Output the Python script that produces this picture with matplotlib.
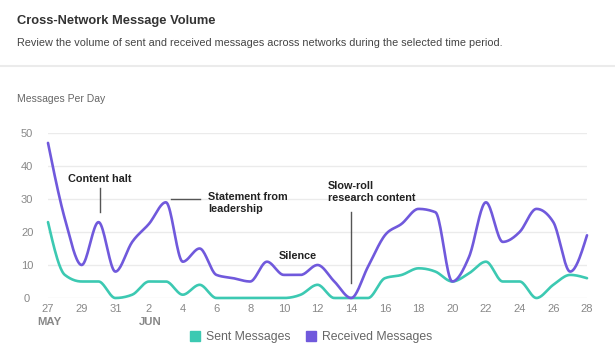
import numpy as np
import matplotlib
matplotlib.use("Agg")
import matplotlib.pyplot as plt
from matplotlib.lines import Line2D

plt.rcParams['font.family'] = ['Liberation Sans', 'DejaVu Sans']

# May 27 .. Jun 28
day_labels = ["27", "28", "29", "30", "31"] + [str(d) for d in range(1, 29)]
sent = [23, 7, 5, 5, 0, 1, 5, 5, 1, 4, 0, 0, 0, 0, 0, 1, 4, 0, 0, 0,
        6, 7, 9, 8, 5, 7.5, 11, 5, 5, 0, 4, 7, 6]
received = [47, 24, 10, 23, 8, 17, 22.5, 29, 11, 15, 7, 6, 5, 11, 7, 7, 10, 5, 0, 9.5,
            19, 22.5, 27, 26, 5, 12.5, 29, 17, 20, 27, 23, 8, 19]
month_marks = {0: "MAY", 6: "JUN"}

SENT_C = "#3cc9b2"
RECV_C = "#7059dc"


def monotone(x, y, n=20):
    # monotone cubic (same idea as d3 curveMonotoneX)
    x = np.asarray(x, float)
    y = np.asarray(y, float)
    h = np.diff(x)
    s = np.diff(y) / h
    t = np.zeros_like(y)
    for i in range(1, len(y) - 1):
        p = (s[i - 1] * h[i] + s[i] * h[i - 1]) / (h[i - 1] + h[i])
        t[i] = (np.sign(s[i - 1]) + np.sign(s[i])) * min(abs(s[i - 1]), abs(s[i]), 0.5 * abs(p))
    t[0] = (3 * s[0] - t[1]) / 2
    t[-1] = (3 * s[-1] - t[-2]) / 2
    xs, ys = [], []
    for i in range(len(h)):
        u = np.linspace(0, 1, n, endpoint=False)
        h00 = 2 * u**3 - 3 * u**2 + 1
        h10 = u**3 - 2 * u**2 + u
        h01 = -2 * u**3 + 3 * u**2
        h11 = u**3 - u**2
        xs.append(x[i] + u * h[i])
        ys.append(h00 * y[i] + h10 * h[i] * t[i] + h01 * y[i + 1] + h11 * h[i] * t[i + 1])
    xs.append([x[-1]])
    ys.append([y[-1]])
    return np.concatenate(xs), np.concatenate(ys)


fig = plt.figure(figsize=(6.15, 3.49), dpi=100)

fig.text(17 / 615, 1 - 21 / 349, "Cross-Network Message Volume", fontsize=9.3,
         fontweight="bold", color="#333333", va="center")
fig.text(17 / 615, 1 - 43 / 349,
         "Review the volume of sent and received messages across networks during the selected time period.",
         fontsize=7.8, color="#444444", va="center")
fig.add_artist(Line2D([0, 1], [1 - 66 / 349, 1 - 66 / 349], color="#ebebeb", lw=1.5))
fig.text(17 / 615, 1 - 99 / 349, "Messages Per Day", fontsize=7.5, color="#666666", va="center")

ax = fig.add_axes([48 / 615, 1 - 298 / 349, (587 - 48) / 615, 165 / 349])
x = np.arange(len(sent))

xs, ys = monotone(x, sent)
ax.plot(xs, ys, color=SENT_C, lw=1.9, solid_capstyle="round", clip_on=False, zorder=3)
xs, ys = monotone(x, received)
ax.plot(xs, ys, color=RECV_C, lw=1.9, solid_capstyle="round", clip_on=False, zorder=4)

ax.set_xlim(0, len(sent) - 1)
ax.set_ylim(0, 50)
ax.set_yticks([0, 10, 20, 30, 40, 50])
ax.grid(axis="y", color="#ebebeb", lw=1)
ax.set_axisbelow(True)
for sp in ax.spines.values():
    sp.set_visible(False)
ax.tick_params(axis="y", length=0, pad=15, labelsize=8, labelcolor="#888888")
for lab in ax.get_yticklabels():
    lab.set_ha("center")
ax.set_xticks(x[::2])
ax.set_xticklabels(day_labels[::2])
ax.tick_params(axis="x", length=0, pad=4, labelsize=8, labelcolor="#888888")

for i, m in month_marks.items():
    ax.text(i + 0.1, -0.145, m, transform=ax.get_xaxis_transform(), ha="center", va="center",
            fontsize=8.2, fontweight="bold", color="#888888")

# annotations
ann = dict(fontsize=7.8, fontweight="bold", color="#222222", va="center", ha="left")
ax.text(1.2, 36, "Content halt", **ann)
ax.plot([3.1, 3.1], [26, 33.3], color="#555555", lw=1)
ax.text(9.5, 28.8, "Statement from\nleadership", linespacing=1.25, **ann)
ax.plot([7.3, 9.0], [30, 30], color="#555555", lw=1)
ax.text(14.8, 12.8, "Silence", **{**ann, "ha": "center"})
ax.text(16.6, 32, "Slow-roll\nresearch content", linespacing=1.25, **ann)
ax.plot([18, 18], [4.5, 26.2], color="#555555", lw=1)

handles = [Line2D([], [], marker="s", ls="", markersize=7.5, color=SENT_C, label="Sent Messages"),
           Line2D([], [], marker="s", ls="", markersize=7.5, color=RECV_C, label="Received Messages")]
leg = fig.legend(handles=handles, loc="center", bbox_to_anchor=(0.505, 1 - 337 / 349), ncol=2,
                 frameon=False, fontsize=8.8, handletextpad=0.4, columnspacing=1.2,
                 handlelength=1.0)
for t in leg.get_texts():
    t.set_color("#666666")

fig.savefig("out.png", dpi=100)
